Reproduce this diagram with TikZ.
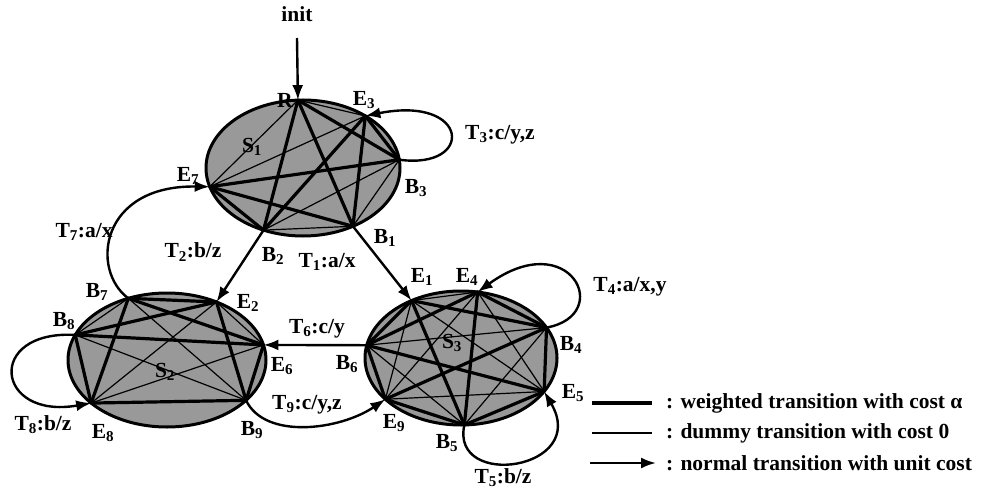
\documentclass[tikz,border=0pt]{standalone}
\usepackage{fontspec}
\setmainfont{Liberation Serif}
\usetikzlibrary{arrows.meta,calc}
\newcommand{\sbs}[1]{\textsubscript{#1}}
\begin{document}
\begin{tikzpicture}[x=1pt,y=-1pt,
  lab/.style={font=\fontsize{21.5}{23}\selectfont\bfseries, inner sep=0pt},
  sfill/.style={fill=black!40},
  sborder/.style={draw=black, line width=3pt},
  wt/.style={line width=3.2pt, line cap=round},
  dm/.style={line width=1.2pt},
  tr/.style={line width=2.4pt, -{Latex[length=15pt,width=11pt]}}]
\useasboundingbox (0,0) rectangle (984,489);

% ---------- S1 ----------
\coordinate (c1) at (303,168);
\fill[sfill] (c1) ellipse [x radius=97, y radius=68];
\path (c1) ++(-93:97 and 68) coordinate (R)
      (c1) ++(-50:97 and 68) coordinate (E3)
      (c1) ++(-7:97 and 68) coordinate (B3)
      (c1) ++(59:97 and 68) coordinate (B1)
      (c1) ++(114:97 and 68) coordinate (B2)
      (c1) ++(164:97 and 68) coordinate (E7);
\foreach \e in {R,E3,E7} \foreach \b in {B1,B2,B3} \draw[wt] (\e) -- (\b);
\foreach \a/\b in {R/E3,R/E7,E3/E7,B1/B2,B1/B3,B2/B3} \draw[dm] (\a) -- (\b);
\draw[sborder] (c1) ellipse [x radius=97, y radius=68];

% ---------- S2 ----------
\coordinate (c2) at (167,360);
\fill[sfill] (c2) ellipse [x radius=99, y radius=67];
\path (c2) ++(-113:99 and 67) coordinate (B7)
      (c2) ++(-60:99 and 67) coordinate (E2)
      (c2) ++(-13:99 and 67) coordinate (E6)
      (c2) ++(37:99 and 67) coordinate (B9)
      (c2) ++(140:99 and 67) coordinate (E8)
      (c2) ++(-158:99 and 67) coordinate (B8);
\foreach \e in {E2,E6,E8} \foreach \b in {B7,B8,B9} \draw[wt] (\e) -- (\b);
\foreach \a/\b in {E2/E6,E2/E8,E6/E8,B7/B8,B7/B9,B8/B9} \draw[dm] (\a) -- (\b);
\draw[sborder] (c2) ellipse [x radius=99, y radius=67];

% ---------- S3 ----------
\coordinate (c3) at (461,358);
\fill[sfill] (c3) ellipse [x radius=96, y radius=67];
\path (c3) ++(-121:96 and 67) coordinate (E1)
      (c3) ++(-80:96 and 67) coordinate (E4)
      (c3) ++(-27:96 and 67) coordinate (B4)
      (c3) ++(30:96 and 67) coordinate (E5)
      (c3) ++(88:96 and 67) coordinate (B5)
      (c3) ++(142:96 and 67) coordinate (E9)
      (c3) ++(191:96 and 67) coordinate (B6);
\foreach \e in {E1,E4,E5,E9} \foreach \b in {B4,B5,B6} \draw[wt] (\e) -- (\b);
\foreach \a/\b in {E1/E4,E1/E5,E1/E9,E4/E5,E4/E9,E5/E9,B4/B5,B4/B6,B5/B6} \draw[dm] (\a) -- (\b);
\draw[sborder] (c3) ellipse [x radius=96, y radius=67];

% ---------- state names ----------
\node[lab] (nS1) at (252,147) {S\sbs{1}};
\node[lab] (nS2) at (165,372) {S\sbs{2}};
\node[lab] (nS3) at (452,343) {S\sbs{3}};

% ---------- transitions ----------
\node[lab] (init) at (297,14) {init};
\coordinate (initstart) at (297,38);
\draw[tr] (initstart) -- (R);
\draw[tr] (B1) -- (E1);
\draw[tr] (B2) -- (E2);
\draw[tr] (B6) -- (E6);
\draw[tr] (B3) .. controls (475,170) and (470,95) .. (E3);
\draw[tr] (B4) .. controls (615,315) and (570,225) .. (E4);
\draw[tr] (B5) .. controls (450,490) and (590,470) .. (E5);
\draw[tr] (B8) .. controls (-15,330) and (-5,420) .. (E8);
\draw[tr] (B7) .. controls (90,270) and (100,185) .. (E7);
\draw[tr] (B9) .. controls (265,440) and (340,430) .. (E9);

% ---------- point labels ----------
\node[lab] (lR) at (285,100) {R};
\node[lab] (lE3) at (364,100) {E\sbs{3}};
\node[lab] (lB3) at (416,188) {B\sbs{3}};
\node[lab] (lB1) at (385,238) {B\sbs{1}};
\node[lab] (lB2) at (273,256) {B\sbs{2}};
\node[lab] (lE7) at (188,176) {E\sbs{7}};

\node[lab] (lB7) at (97,292) {B\sbs{7}};
\node[lab] (lE2) at (248,303) {E\sbs{2}};
\node[lab] (lB8) at (64,321) {B\sbs{8}};
\node[lab] (lE6) at (282,366) {E\sbs{6}};
\node[lab] (lB9) at (252,430) {B\sbs{9}};
\node[lab] (lE8) at (103,433) {E\sbs{8}};

\node[lab] (lE1) at (422,277) {E\sbs{1}};
\node[lab] (lE4) at (467,277) {E\sbs{4}};
\node[lab] (lB4) at (571,345) {B\sbs{4}};
\node[lab] (lE5) at (573,393) {E\sbs{5}};
\node[lab] (lB5) at (447,443) {B\sbs{5}};
\node[lab] (lE9) at (394,423) {E\sbs{9}};
\node[lab] (lB6) at (347,364) {B\sbs{6}};

% ---------- transition labels ----------
\node[lab] (lT1) at (327,262) {T\sbs{1}:a/x};
\node[lab] (lT2) at (193,252) {T\sbs{2}:b/z};
\node[lab] (lT3) at (500,135) {T\sbs{3}:c/y,z};
\node[lab] (lT4) at (630,287) {T\sbs{4}:a/x,y};
\node[lab] (lT5) at (503,478) {T\sbs{5}:b/z};
\node[lab] (lT6) at (317,329) {T\sbs{6}:c/y};
\node[lab] (lT7) at (84,232) {T\sbs{7}:a/x};
\node[lab] (lT8) at (43,425) {T\sbs{8}:b/z};
\node[lab] (lT9) at (307,405) {T\sbs{9}:c/y,z};

% ---------- legend ----------
\coordinate (lg1a) at (592,403); \coordinate (lg1b) at (652,403);
\coordinate (lg2a) at (592,433); \coordinate (lg2b) at (652,433);
\coordinate (lg3a) at (590,463); \coordinate (lg3b) at (656,463);
\draw[wt, line cap=butt] (lg1a) -- (lg1b);
\draw[dm] (lg2a) -- (lg2b);
\draw[tr] (lg3a) -- (lg3b);
\node[lab, anchor=west] (lt1) at (666,403) {: weighted transition with cost α};
\node[lab, anchor=west] (lt2) at (666,433) {: dummy transition with cost 0};
\node[lab, anchor=west] (lt3) at (666,463) {: normal transition with unit cost};
\end{tikzpicture}
\end{document}
